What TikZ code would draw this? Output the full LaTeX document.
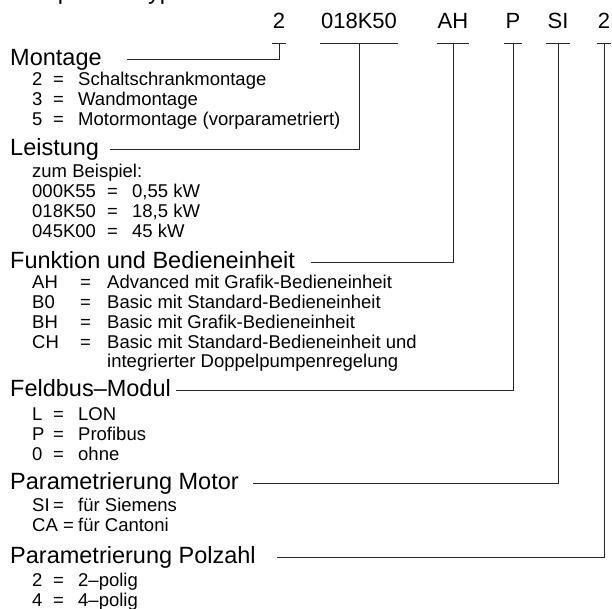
\documentclass[tikz,border=0pt]{standalone}
\usepackage{fontspec}
\setmainfont{Liberation Sans}
\usetikzlibrary{positioning}
\tikzset{
  heading/.style={anchor=base west, inner sep=0pt, font=\fontsize{23.5}{28}\selectfont, text height=17pt, text depth=5pt},
  item/.style={anchor=base west, inner sep=0pt, font=\fontsize{18.5}{22}\selectfont},
  code/.style={anchor=base, inner xsep=1pt, inner ysep=0pt, font=\fontsize{22}{26}\selectfont},
  lead/.style={line width=0.8pt, black!85}
}
\newcommand{\kv}[4]{\makebox[#1pt][l]{#2}\makebox[#3pt][l]{=}#4}

\begin{document}
\begin{tikzpicture}[x=1pt, y=-1pt]
    \useasboundingbox (0,0) rectangle (612,608);
    \clip (0,0) rectangle (612,608);
    \node[anchor=base west, inner sep=0pt, font=\fontsize{23.5}{28}\selectfont] (title) at (12,-1) {Beispiel für Typenschlüssel};

    \node[code] (cMont) at (279,28) {2};
    \node[code] (cLeist) at (359,28) {018K50};
    \node[code] (cFunk) at (453,28) {AH};
    \node[code] (cFeld) at (513,28) {P};
    \node[code] (cMot) at (558,28) {SI};
    \node[code] (cPol) at (604,28) {2};
    \foreach \c in {cMont,cLeist,cFunk,cFeld,cMot,cPol}
    {
        \draw[lead] ([yshift=-15pt]\c.south west) -- ([yshift=-15pt]\c.south east);
    }

    \node[heading] (hMont) at (10,65) {Montage};
    \node[item] (m2) at (32,85) {\kv{21}{2}{25}{Schaltschrankmontage}};
    \node[item] (m3) at (32,105) {\kv{21}{3}{25}{Wandmontage}};
    \node[item] (m5) at (32,125) {\kv{21}{5}{25}{Motormontage (vorparametriert)}};

    \node[heading] (hLeist) at (10,155) {Leistung};
    \node[item] (l0) at (32,177) {zum Beispiel:};
    \node[item] (l1) at (32,197) {\kv{75}{000K55}{25}{0,55 kW}};
    \node[item] (l2) at (32,217) {\kv{75}{018K50}{25}{18,5 kW}};
    \node[item] (l3) at (32,237) {\kv{75}{045K00}{25}{45 kW}};

    \node[heading] (hFunk) at (10,268) {Funktion und Bedieneinheit};
    \node[item] (f1) at (32,288) {\kv{48}{AH}{27}{Advanced mit Grafik-Bedieneinheit}};
    \node[item] (f2) at (32,308) {\kv{48}{B0}{27}{Basic mit Standard-Bedieneinheit}};
    \node[item] (f3) at (32,328) {\kv{48}{BH}{27}{Basic mit Grafik-Bedieneinheit}};
    \node[item] (f4) at (32,348) {\kv{48}{CH}{27}{Basic mit Standard-Bedieneinheit und}};
    \node[item] (f5) at (107,367) {integrierter Doppelpumpenregelung};

    \node[heading] (hFeld) at (10,396) {Feldbus–Modul};
    \node[item] (b1) at (32,420) {\kv{21}{L}{25}{LON}};
    \node[item] (b2) at (32,440) {\kv{21}{P}{25}{Profibus}};
    \node[item] (b3) at (32,460) {\kv{21}{0}{25}{ohne}};

    \node[heading] (hMot) at (10,489) {Parametrierung Motor};
    \node[item] (p1) at (32,511) {\kv{21}{SI}{25}{für Siemens}};
    \node[item] (p2) at (32,531) {\makebox[46pt][l]{CA =}für Cantoni};

    \node[heading] (hPol) at (10,563) {Parametrierung Polzahl};
    \node[item] (z1) at (32,586) {\kv{21}{2}{25}{2–polig}};
    \node[item] (z2) at (32,606) {\kv{21}{4}{25}{4–polig}};

    \draw[lead] ([xshift=25.6pt]hMont.east) -| ([yshift=-15pt]cMont.south);
    \draw[lead] ([xshift=11pt]hLeist.east) -| ([yshift=-15pt]cLeist.south);
    \draw[lead] ([xshift=16pt]hFunk.east) -| ([yshift=-15pt]cFunk.south);
    \draw[lead] ([xshift=5pt]hFeld.east) -| ([yshift=-15pt]cFeld.south);
    \draw[lead] ([xshift=14.5pt]hMot.east) -| ([yshift=-15pt]cMot.south);
    \draw[lead] ([xshift=21.5pt]hPol.east) -| ([yshift=-15pt]cPol.south);
\end{tikzpicture}
\end{document}
